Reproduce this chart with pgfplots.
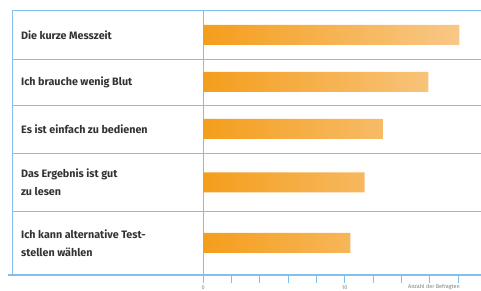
\documentclass[border=0pt]{standalone}
\usepackage{pgfplots}
\pgfplotsset{compat=1.18}
\usepackage{fontspec}
\setmainfont{Fira Sans}
\definecolor{tblue}{RGB}{130,192,235}
\definecolor{barL}{RGB}{244,158,28}
\definecolor{barR}{RGB}{248,200,135}
\definecolor{txt}{RGB}{50,50,50}
\begin{document}
\begin{tikzpicture}
\begin{axis}[
  x=14.17bp, y=1bp,
  xmin=-13.8, xmax=19.62, ymin=16, ymax=291,
  axis x line*=bottom, axis y line=none,
  axis line style={tblue, line width=1.3pt, -},
  xtick={0,2,...,18}, xticklabels={0,,,,,10,,,,},
  tick style={tblue, line width=0.6pt}, tick align=outside, major tick length=8bp,
  ytick=\empty,
  xticklabel style={font=\fontsize{5.5}{6}\selectfont, text=gray, yshift=1bp},
  clip=false,
  xbar, bar width=20,
]
\coordinate (bl) at (axis cs:-14.33,0);
\coordinate (tr) at (axis cs:19.62,291);
\pgfplotsinvokeforeach{281,231,185,137,79}{
  \draw[tblue, line width=1pt] (axis cs:-13.48,#1) -- (axis cs:19.62,#1);
}
\draw[tblue, line width=0.8pt] (axis cs:-13.48,281) -- (axis cs:-13.48,16);
\draw[tblue, line width=0.8pt] (axis cs:0,281) -- (axis cs:0,16);
\addplot[draw=none, left color=barL, right color=barR] coordinates {(18.1,256) (15.9,209) (12.7,162) (11.4,108.5) (10.4,48)};
\begin{scope}[every node/.style={anchor=west, font=\fontsize{10.8}{18}\selectfont\bfseries, text=txt, align=left, inner sep=0pt}]
\node at (axis cs:-12.85,256) {Die kurze Messzeit};
\node at (axis cs:-12.85,209) {Ich brauche wenig Blut};
\node at (axis cs:-12.85,162) {Es ist einfach zu bedienen};
\node at (axis cs:-12.85,108.5) {Das Ergebnis ist gut\\zu lesen};
\node at (axis cs:-12.85,48) {Ich kann alternative Test-\\stellen wählen};
\end{scope}
\node[font=\fontsize{5.5}{6}\selectfont, text=gray] at (axis cs:16.3,4) {Anzahl der Befragten};
\end{axis}
\pgfresetboundingbox
\useasboundingbox (bl) rectangle (tr);
\end{tikzpicture}
\end{document}
